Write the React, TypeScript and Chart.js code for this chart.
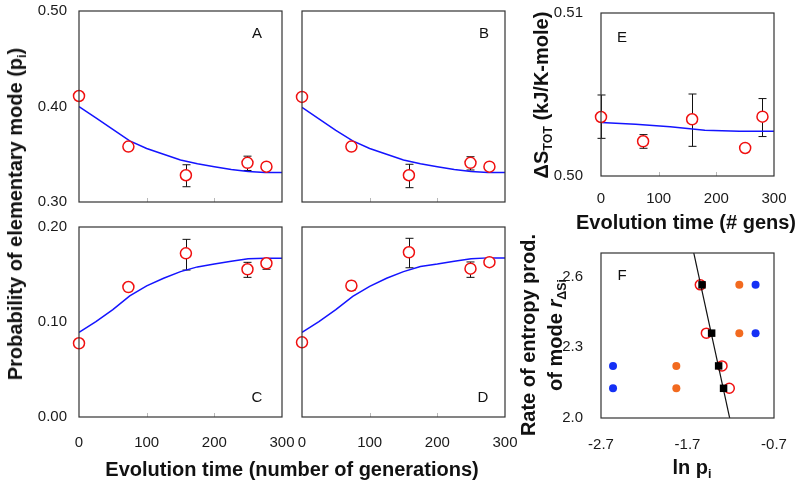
import React, { useEffect, useRef } from 'react';
import { Chart, registerables } from 'chart.js';

Chart.register(...registerables);

const FONT = '"Liberation Sans", Arial, Helvetica, sans-serif';
Chart.defaults.font.family = FONT;

// ---------- Panels A–D : probability of elementary mode vs evolution time ----------
const genTimes = [0, 73, 158, 249, 277];
const fitTimes = [0, 25, 50, 75, 100, 125, 150, 175, 200, 225, 250, 275, 300];

const pA = [0.411, 0.358, 0.328, 0.341, 0.337];
const pALo = [null, 0.354, 0.316, 0.333, null];
const pAHi = [null, 0.362, 0.339, 0.348, null];
const fitA = [0.4, 0.388, 0.376, 0.364, 0.356, 0.35, 0.344, 0.34, 0.337, 0.334, 0.332, 0.331, 0.331];

const pB = [0.41, 0.358, 0.328, 0.341, 0.337];
const pBLo = [null, 0.354, 0.315, 0.3335, null];
const pBHi = [null, 0.362, 0.3395, 0.3474, null];
const fitB = [0.399, 0.387, 0.375, 0.364, 0.356, 0.35, 0.344, 0.34, 0.337, 0.334, 0.332, 0.331, 0.331];

const pC = [0.0776, 0.1368, 0.1723, 0.1555, 0.1618];
const pCLo = [null, 0.1335, 0.1547, 0.147, 0.1555];
const pCHi = [null, 0.1405, 0.187, 0.1628, 0.1665];
const fitC = [0.089, 0.1005, 0.113, 0.1275, 0.138, 0.146, 0.153, 0.158, 0.161, 0.164, 0.1665, 0.167, 0.167];

const pD = [0.0786, 0.1382, 0.1734, 0.1561, 0.163];
const pDLo = [null, 0.1335, 0.1571, 0.147, null];
const pDHi = [null, 0.1428, 0.1881, 0.1632, null];
const fitD = [0.089, 0.1005, 0.113, 0.127, 0.1375, 0.146, 0.153, 0.1585, 0.161, 0.164, 0.1665, 0.1675, 0.1675];

const probTicksTop = [0.3, 0.4, 0.5];
const probTicksBottom = [0.0, 0.1, 0.2];
const genTicks = [0, 100, 200, 300];

// ---------- Panel E : total entropy change ----------
const eTimes = [0, 73, 158, 250, 280];
const eVals = [0.50362, 0.50213, 0.50348, 0.50172, 0.50364];
const eLo = [0.50231, 0.5017, 0.50182, null, 0.50242];
const eHi = [0.50497, 0.50254, 0.50503, null, 0.50475];
const eFitTimes = [0, 60, 120, 180, 240, 300];
const eFit = [0.50328, 0.50318, 0.50302, 0.5028, 0.50274, 0.50274];
const eTicksY = [0.5, 0.51];

// ---------- Panel F : rate of entropy production vs ln p ----------
const fRates = [2.565, 2.36, 2.221, 2.126];
const fBlueLnP = [-0.913, -0.913, -2.561, -2.561];
const fOrangeLnP = [-1.101, -1.101, -1.829, -1.829];
const fRedLnP = [-1.552, -1.482, -1.301, -1.217];
const fSquareLnP = [-1.532, -1.421, -1.34, -1.283];
const fFitLnP = [-1.657, -1.183];
const fFitRate = [2.75, 1.95];
const fTicksX = [-2.7, -1.7, -0.7];
const fTicksY = [2.0, 2.3, 2.6];

// ---------- styling / layout ----------
const W = 800;
const H = 486;
const YW = 50;
const XH = 40;
const RED = '#f01010';
const BLUE_LINE = '#1414ff';
const ORANGE = '#f26a1f';
const BLUE_DOT = '#1530f5';

const pts = (xs: number[], ys: number[]) => xs.map((x, i) => ({ x, y: ys[i] }));

const framePlugin = {
  id: 'frame',
  afterDraw(chart: any, _args: any, opts: any) {
    const { ctx, chartArea: a } = chart;
    ctx.save();
    if (opts && opts.innerTicks) {
      const xs = chart.scales.x;
      ctx.strokeStyle = '#b8b8b8';
      ctx.lineWidth = 1;
      xs.ticks.forEach((t: any) => {
        if (t.value > xs.min && t.value < xs.max) {
          const px = Math.round(xs.getPixelForValue(t.value)) + 0.5;
          ctx.beginPath();
          ctx.moveTo(px, a.bottom);
          ctx.lineTo(px, a.bottom - 4);
          ctx.stroke();
        }
      });
    }
    ctx.strokeStyle = '#333';
    ctx.lineWidth = 1.2;
    ctx.strokeRect(a.left, a.top, a.right - a.left, a.bottom - a.top);
    ctx.restore();
  },
};

const errorBarPlugin = {
  id: 'errorBars',
  beforeDatasetsDraw(chart: any) {
    const { ctx } = chart;
    const xs = chart.scales.x;
    const ys = chart.scales.y;
    ctx.save();
    ctx.strokeStyle = '#111';
    ctx.lineWidth = 1;
    chart.data.datasets.forEach((ds: any) => {
      if (!ds.errLo) return;
      ds.data.forEach((p: any, i: number) => {
        const lo = ds.errLo[i];
        const hi = ds.errHi[i];
        if (lo == null || hi == null) return;
        const x = Math.round(xs.getPixelForValue(p.x)) + 0.5;
        const y1 = ys.getPixelForValue(lo);
        const y2 = ys.getPixelForValue(hi);
        ctx.beginPath();
        ctx.moveTo(x, y1);
        ctx.lineTo(x, y2);
        ctx.moveTo(x - 4, y1);
        ctx.lineTo(x + 4, y1);
        ctx.moveTo(x - 4, y2);
        ctx.lineTo(x + 4, y2);
        ctx.stroke();
      });
    });
    ctx.restore();
  },
};

type Panel = {
  rect: [number, number, number, number];
  xMin: number; xMax: number; xTicks: number[]; xShow: boolean; xPad: number; xFmt: (v: number) => string;
  yMin: number; yMax: number; yTicks: number[]; yShow: boolean; yPad: number; yFmt: (v: number) => string;
  innerTicks: boolean;
  datasets: any[];
};

const redPoints = (xs: number[], ys: number[], lo?: any[], hi?: any[]) => ({
  data: pts(xs, ys),
  errLo: lo,
  errHi: hi,
  showLine: false,
  pointRadius: 5.5,
  pointBorderWidth: 1.5,
  pointBorderColor: RED,
  pointBackgroundColor: '#ffffff',
  clip: false,
  order: 0,
});

const fitLine = (xs: number[], ys: number[], color = BLUE_LINE, width = 1.5, order = 1) => ({
  data: pts(xs, ys),
  showLine: true,
  borderColor: color,
  borderWidth: width,
  pointRadius: 0,
  tension: 0,
  order,
});

const dots = (xs: number[], ys: number[], color: string, order: number) => ({
  data: pts(xs, ys),
  showLine: false,
  pointRadius: 4,
  pointBorderWidth: 0,
  pointBackgroundColor: color,
  pointBorderColor: color,
  clip: false,
  order,
});

const f2 = (v: number) => v.toFixed(2);
const f1 = (v: number) => v.toFixed(1);
const f0 = (v: number) => String(Math.round(v));

const panels: Panel[] = [
  {
    rect: [79, 11, 282, 202],
    xMin: 0, xMax: 300, xTicks: genTicks, xShow: false, xPad: 17, xFmt: f0,
    yMin: 0.3, yMax: 0.5, yTicks: probTicksTop, yShow: true, yPad: 12, yFmt: f2,
    innerTicks: true,
    datasets: [redPoints(genTimes, pA, pALo, pAHi), fitLine(fitTimes, fitA)],
  },
  {
    rect: [302, 11, 505, 202],
    xMin: 0, xMax: 300, xTicks: genTicks, xShow: false, xPad: 17, xFmt: f0,
    yMin: 0.3, yMax: 0.5, yTicks: probTicksTop, yShow: false, yPad: 12, yFmt: f2,
    innerTicks: true,
    datasets: [redPoints(genTimes, pB, pBLo, pBHi), fitLine(fitTimes, fitB)],
  },
  {
    rect: [79, 227, 282, 417],
    xMin: 0, xMax: 300, xTicks: genTicks, xShow: true, xPad: 17, xFmt: f0,
    yMin: 0, yMax: 0.2, yTicks: probTicksBottom, yShow: true, yPad: 12, yFmt: f2,
    innerTicks: true,
    datasets: [redPoints(genTimes, pC, pCLo, pCHi), fitLine(fitTimes, fitC)],
  },
  {
    rect: [302, 227, 505, 417],
    xMin: 0, xMax: 300, xTicks: genTicks, xShow: true, xPad: 17, xFmt: f0,
    yMin: 0, yMax: 0.2, yTicks: probTicksBottom, yShow: false, yPad: 12, yFmt: f2,
    innerTicks: true,
    datasets: [redPoints(genTimes, pD, pDLo, pDHi), fitLine(fitTimes, fitD)],
  },
  {
    rect: [601, 13, 774, 176],
    xMin: 0, xMax: 300, xTicks: genTicks, xShow: true, xPad: 14, xFmt: f0,
    yMin: 0.5, yMax: 0.51, yTicks: eTicksY, yShow: true, yPad: 18, yFmt: f2,
    innerTicks: true,
    datasets: [redPoints(eTimes, eVals, eLo, eHi), fitLine(eFitTimes, eFit)],
  },
  {
    rect: [601, 253, 774, 418],
    xMin: -2.7, xMax: -0.7, xTicks: fTicksX, xShow: true, xPad: 18, xFmt: f1,
    yMin: 2.0, yMax: 2.7, yTicks: fTicksY, yShow: true, yPad: 18, yFmt: f1,
    innerTicks: false,
    datasets: [
      {
        data: pts(fSquareLnP, fRates),
        showLine: false,
        pointStyle: 'rect',
        pointRadius: 5.3,
        pointBorderWidth: 0,
        pointBackgroundColor: '#000',
        pointBorderColor: '#000',
        clip: false,
        order: 0,
      },
      fitLine(fFitLnP, fFitRate, '#111', 1.2, 1),
      { ...redPoints(fRedLnP, fRates), pointRadius: 5, order: 2 },
      dots(fOrangeLnP, fRates, ORANGE, 3),
      dots(fBlueLnP, fRates, BLUE_DOT, 4),
    ],
  },
];

function PanelChart({ p }: { p: Panel }) {
  const ref = useRef<HTMLCanvasElement | null>(null);
  useEffect(() => {
    if (!ref.current) return;
    const [l, t, r, b] = p.rect;
    const tickFont = { family: FONT, size: 15 };
    const chart = new Chart(ref.current, {
      type: 'scatter',
      data: { datasets: p.datasets },
      plugins: [errorBarPlugin, framePlugin],
      options: {
        animation: false,
        responsive: false,
        devicePixelRatio: 1,
        events: [],
        layout: { padding: { left: l - YW, right: W - r, top: t, bottom: H - b - XH } },
        plugins: {
          legend: { display: false },
          tooltip: { enabled: false },
          frame: { innerTicks: p.innerTicks },
        } as any,
        scales: {
          x: {
            type: 'linear',
            min: p.xMin,
            max: p.xMax,
            afterBuildTicks: (s: any) => { s.ticks = p.xTicks.map((v) => ({ value: v })); },
            afterFit: (s: any) => {
              s.height = XH;
              s.paddingLeft = 0;
              s.paddingRight = 0;
              s.paddingTop = 0;
              s.paddingBottom = 0;
            },
            grid: { display: false, drawTicks: false },
            border: { display: false },
            ticks: {
              display: p.xShow,
              padding: p.xPad,
              font: tickFont,
              color: '#1a1a1a',
              maxRotation: 0,
              minRotation: 0,
              autoSkip: false,
              callback: (v: any) => p.xFmt(Number(v)),
            },
          },
          y: {
            type: 'linear',
            min: p.yMin,
            max: p.yMax,
            afterBuildTicks: (s: any) => { s.ticks = p.yTicks.map((v) => ({ value: v })); },
            afterFit: (s: any) => {
              s.width = YW;
              s.paddingLeft = 0;
              s.paddingRight = 0;
              s.paddingTop = 0;
              s.paddingBottom = 0;
            },
            grid: { display: false, drawTicks: false },
            border: { display: false },
            ticks: {
              display: p.yShow,
              padding: p.yPad,
              font: tickFont,
              color: '#1a1a1a',
              autoSkip: false,
              callback: (v: any) => p.yFmt(Number(v)),
            },
          },
        },
      } as any,
    });
    return () => chart.destroy();
  }, [p]);
  return (
    <canvas
      ref={ref}
      width={W}
      height={H}
      style={{ position: 'absolute', left: 0, top: 0, width: W, height: H }}
    />
  );
}

const titleStyle: React.CSSProperties = {
  position: 'absolute',
  fontFamily: FONT,
  fontWeight: 'bold',
  fontSize: 20,
  color: '#111',
  whiteSpace: 'nowrap',
  lineHeight: '24px',
};

const subStyle: React.CSSProperties = { fontSize: '0.62em', verticalAlign: '-0.32em', lineHeight: 0 };

const letterStyle: React.CSSProperties = {
  position: 'absolute',
  fontFamily: FONT,
  fontSize: 15,
  color: '#111',
  transform: 'translate(-50%, -50%)',
  lineHeight: '16px',
};

function Label({ x, y, rotate, children, extra }: { x: number; y: number; rotate?: boolean; children: any; extra?: React.CSSProperties }) {
  return (
    <div
      style={{
        ...titleStyle,
        left: x,
        top: y,
        transform: `translate(-50%, -50%)${rotate ? ' rotate(-90deg)' : ''}`,
        ...extra,
      }}
    >
      {children}
    </div>
  );
}

export default function App() {
  const letters: [string, number, number][] = [
    ['A', 257, 33],
    ['B', 484, 33],
    ['C', 257, 397],
    ['D', 483, 397],
    ['E', 622, 37],
    ['F', 622, 275],
  ];
  return (
    <div style={{ position: 'absolute', left: 0, top: 0, width: W, height: H, background: '#fff', overflow: 'hidden' }}>
      {panels.map((p, i) => (
        <PanelChart key={i} p={p} />
      ))}
      {letters.map(([s, x, y]) => (
        <div key={s} style={{ ...letterStyle, left: x, top: y }}>{s}</div>
      ))}
      <Label x={15} y={214} rotate>
        Probability of elementary mode (p<sub style={subStyle}>i</sub>)
      </Label>
      <Label x={292} y={469}>Evolution time (number of generations)</Label>
      <Label x={541} y={95} rotate>
        ΔS<sub style={subStyle}>TOT</sub> (kJ/K-mole)
      </Label>
      <Label x={686} y={222}>Evolution time (# gens)</Label>
      <Label x={542} y={335} rotate extra={{ textAlign: 'center', lineHeight: '27px' }}>
        Rate of entropy prod.
        <br />
        of mode <i>r</i>
        <sub style={subStyle}>ΔSi</sub>
      </Label>
      <Label x={692} y={467}>
        ln p<sub style={subStyle}>i</sub>
      </Label>
    </div>
  );
}
